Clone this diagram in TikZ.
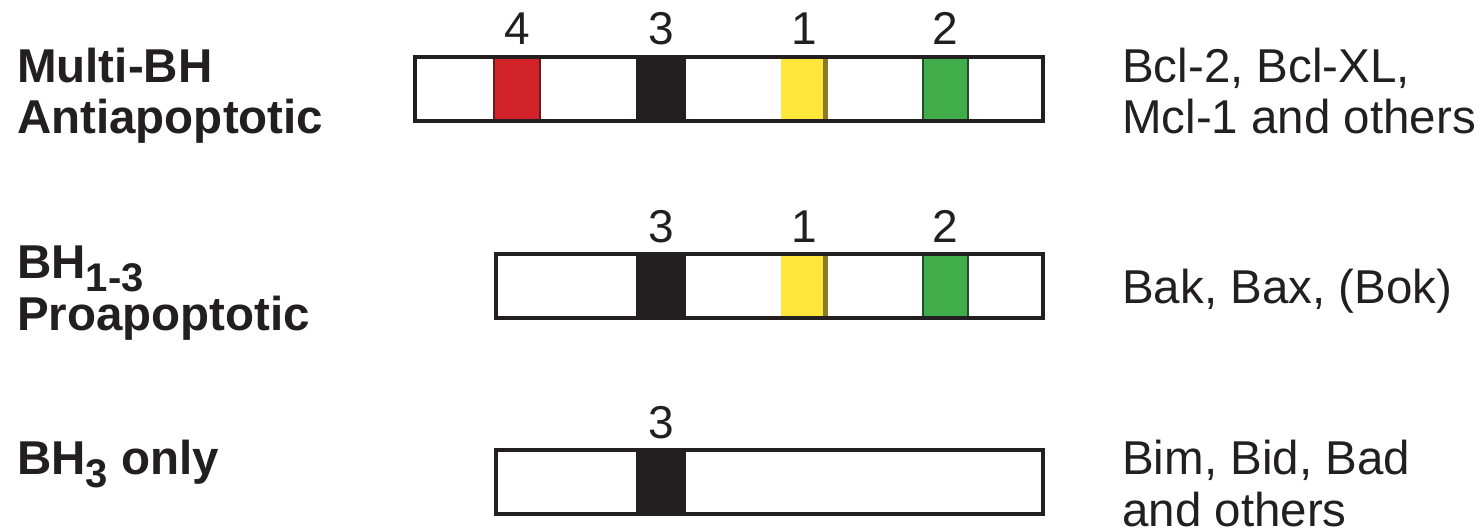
\documentclass[tikz,border=0pt]{standalone}
\usepackage{fontspec}
\setmainfont{Liberation Sans}
\definecolor{barblack}{HTML}{231F20}
\definecolor{bhred}{HTML}{D2232A}
\definecolor{bhredd}{HTML}{6B1A1C}
\definecolor{bhyel}{HTML}{FFE63B}
\definecolor{bhyeld}{HTML}{8C7A2A}
\definecolor{bhgreen}{HTML}{40AD4A}
\definecolor{bhgreend}{HTML}{234F28}
\newcommand\lowsub[1]{\raisebox{-13pt}{\fontsize{40}{40}\selectfont\bfseries #1}}
\begin{document}
\begin{tikzpicture}[x=1pt,y=-1pt,
  lbl/.style={anchor=base west, inner sep=0pt, font=\fontsize{47.5}{47.5}\selectfont\bfseries, text=barblack},
  txt/.style={anchor=base west, inner sep=0pt, font=\fontsize{47.5}{47.5}\selectfont, text=barblack},
  num/.style={anchor=base, inner sep=0pt, font=\fontsize{46}{46}\selectfont, text=barblack},
  barbox/.style={draw=barblack, line width=4pt, inner sep=0pt, minimum height=64pt},
  seg/.style={inner sep=0pt, minimum height=64pt, line width=2.5pt},
  segred/.style={seg, fill=bhred, draw=bhredd, minimum width=46pt},
  segblack/.style={seg, fill=barblack, draw=barblack, minimum width=48pt},
  segyel/.style={seg, fill=bhyel, minimum width=46pt},
  seggreen/.style={seg, fill=bhgreen, draw=bhgreend, minimum width=45pt},
  yedge/.style={bhyeld, line width=5pt}
]
\useasboundingbox (0,0) rectangle (1480,531);
\fill[white] (0,0) rectangle (1480,531);

% Row 1
\node[barbox, fill=white, minimum width=628pt] (bar1bg) at (729,89) {};
\node[segred] (s14) at (517,89) {};
\node[segblack] (s13) at (661,89) {};
\node[segyel] (s11) at (804,89) {};
\draw[yedge] ([xshift=-2.5pt]s11.north east) -- ([xshift=-2.5pt]s11.south east);
\node[seggreen] (s12) at (945.5,89) {};
\node[barbox, minimum width=628pt] (bar1) at (729,89) {};
\node[num] (n14) at (517,44) {4};
\node[num] (n13) at (661,44) {3};
\node[num] (n11) at (804,44) {1};
\node[num] (n12) at (945,44) {2};

% Row 2
\node[barbox, fill=white, minimum width=547pt] (bar2bg) at (769.5,286) {};
\node[segblack] (s23) at (661,286) {};
\node[segyel] (s21) at (804,286) {};
\draw[yedge] ([xshift=-2.5pt]s21.north east) -- ([xshift=-2.5pt]s21.south east);
\node[seggreen] (s22) at (945.5,286) {};
\node[barbox, minimum width=547pt] (bar2) at (769.5,286) {};
\node[num] (n23) at (661,242) {3};
\node[num] (n21) at (804,242) {1};
\node[num] (n22) at (945,242) {2};

% Row 3
\node[barbox, fill=white, minimum width=547pt] (bar3bg) at (769.5,482) {};
\node[segblack] (s33) at (661,482) {};
\node[barbox, minimum width=547pt] (bar3) at (769.5,482) {};
\node[num] (n33) at (661,438) {3};

% Left labels
\node[lbl] (l1a) at (17,82) {Multi-BH};
\node[lbl] (l1b) at (17,133) {Antiapoptotic};
\node[lbl] (l2a) at (17,278) {BH\lowsub{1-3}};
\node[lbl] (l2b) at (17,330) {Proapoptotic};
\node[lbl] (l3a) at (17,474) {BH\lowsub{3} only};

% Right labels
\node[txt] (r1a) at (1122,82) {Bcl-2, Bcl-XL,};
\node[txt] (r1b) at (1122,133) {Mcl-1 and others};
\node[txt] (r2a) at (1122,303) {Bak, Bax, (Bok)};
\node[txt] (r3a) at (1122,474) {Bim, Bid, Bad};
\node[txt] (r3b) at (1122,526) {and others};
\end{tikzpicture}
\end{document}
